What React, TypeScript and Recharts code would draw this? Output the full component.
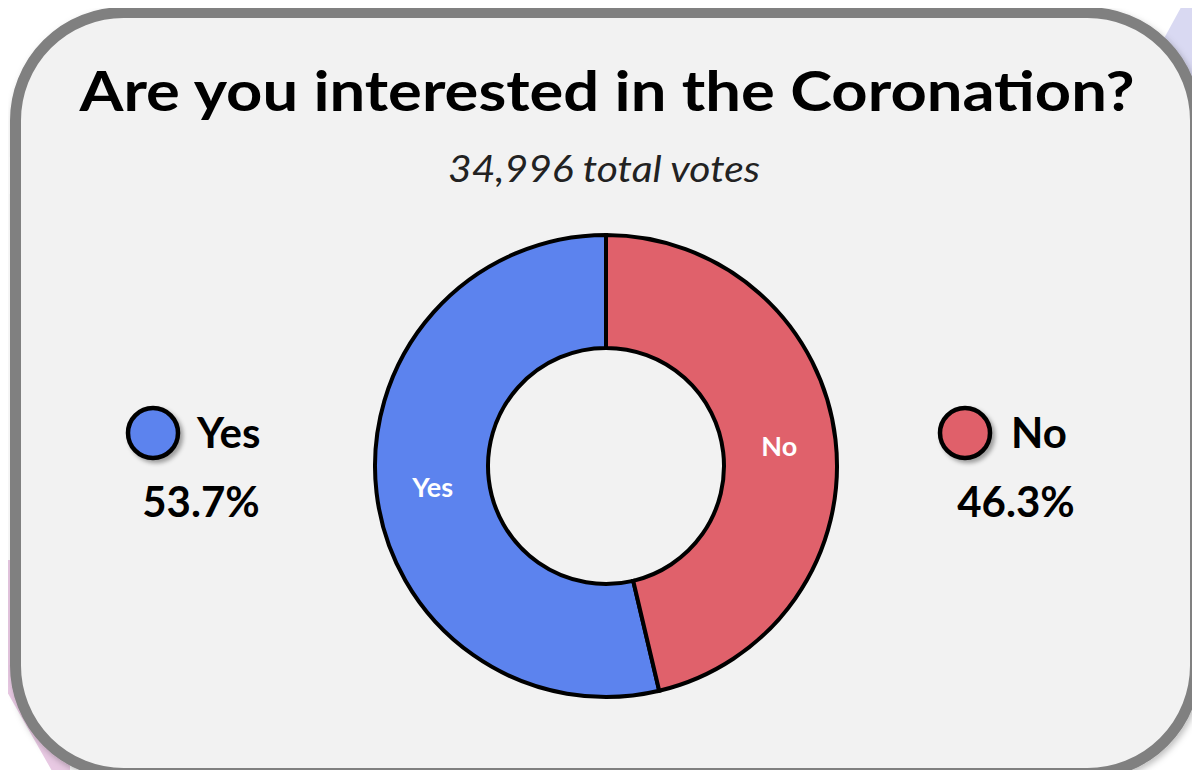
import { PieChart, Pie, Cell } from 'recharts'

const answers = ['Yes', 'No']
const shares = [53.7, 46.3]
const colors = ['#5c83ee', '#e0616b']
const shareLabels = ['53.7%', '46.3%']
const title = 'Are you interested in the Coronation?'
const subtitle = '34,996 total votes'

const W = 1200
const H = 778
const RADIAN = Math.PI / 180

const chartData = answers.map((name, i) => ({ name, value: shares[i] }))

function SliceLabel(props: any) {
  const { cx, cy, midAngle, innerRadius, outerRadius, name } = props
  const r = (innerRadius + outerRadius) / 2
  const x = cx + r * Math.cos(-midAngle * RADIAN)
  const y = cy + r * Math.sin(-midAngle * RADIAN)
  return (
    <text
      x={x}
      y={y}
      fill="#ffffff"
      textAnchor="middle"
      dominantBaseline="central"
      fontFamily="Lato"
      fontWeight={700}
      fontSize={27}
    >
      {name}
    </text>
  )
}

// legend blocks: circle + name, share underneath
const legendPos = [
  { cx: 153, cy: 433, nameX: 197, shareX: 201 },
  { cx: 965, cy: 433, nameX: 1011, shareX: 1016 },
]

export default function App() {
  return (
    <div style={{ position: 'relative', width: W, height: H, margin: -8, background: '#ffffff' }}>
      <svg width={W} height={H} style={{ position: 'absolute', left: 0, top: 0 }}>
        <defs>
          <filter id="shadow" x="-20%" y="-20%" width="140%" height="140%">
            <feDropShadow dx="3" dy="3" stdDeviation="2" floodColor="#000" floodOpacity="0.35" />
          </filter>
          <filter id="frameShadow" x="-5%" y="-5%" width="110%" height="110%">
            <feDropShadow dx="2" dy="3" stdDeviation="3" floodColor="#000" floodOpacity="0.25" />
          </filter>
        </defs>
        <polygon points="1185,0 1200,0 1200,320 1010,320" fill="#d9d9f2" />
        <polygon points="5,560 70,560 70,778 56,778 6,690" fill="#e8c9e3" />
        <rect
          x={15.5}
          y={12.5}
          width={1180}
          height={761}
          rx={108}
          ry={108}
          fill="#f2f2f2"
          stroke="#808080"
          strokeWidth={11}
          filter="url(#frameShadow)"
        />
        <text
          x={607}
          y={111}
          textAnchor="middle"
          fontFamily="Lato"
          fontWeight={700}
          fontSize={56}
          fill="#000000"
          textLength={1055}
          lengthAdjust="spacingAndGlyphs"
        >
          {title}
        </text>
        <text
          x={604}
          y={182}
          textAnchor="middle"
          fontFamily="Lato"
          fontStyle="italic"
          fontSize={36}
          fill="#222222"
          textLength={312}
          lengthAdjust="spacingAndGlyphs"
        >
          {subtitle}
        </text>
        {answers.map((name, i) => {
          const p = legendPos[i]
          return (
            <g key={name}>
              <circle
                cx={p.cx}
                cy={p.cy}
                r={25}
                fill={colors[i]}
                stroke="#000000"
                strokeWidth={4.5}
                filter="url(#shadow)"
              />
              <text x={p.nameX} y={448} fontFamily="Lato" fontWeight={700} fontSize={42} fill="#000000">
                {name}
              </text>
              <text
                x={p.shareX}
                y={517}
                textAnchor="middle"
                fontFamily="Lato"
                fontWeight={700}
                fontSize={42}
                fill="#000000"
              >
                {shareLabels[i]}
              </text>
            </g>
          )
        })}
      </svg>
      <div style={{ position: 'absolute', left: 0, top: 0 }}>
        <PieChart width={W} height={H} margin={{ top: 0, right: 0, bottom: 0, left: 0 }}>
          <Pie
            data={chartData}
            dataKey="value"
            nameKey="name"
            cx={606}
            cy={466}
            innerRadius={118}
            outerRadius={231}
            startAngle={90}
            endAngle={450}
            stroke="#000000"
            strokeWidth={4}
            label={SliceLabel}
            labelLine={false}
            isAnimationActive={false}
          >
            {chartData.map((d, i) => (
              <Cell key={d.name} fill={colors[i]} />
            ))}
          </Pie>
        </PieChart>
      </div>
    </div>
  )
}
